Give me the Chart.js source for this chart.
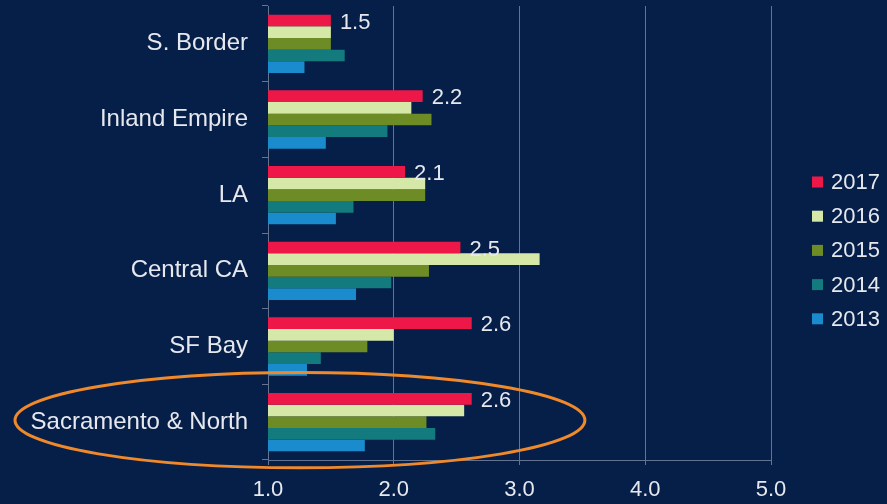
<!DOCTYPE html>
<html>
<head>
<meta charset="utf-8">
<script src="https://cdn.jsdelivr.net/npm/chart.js@4"></script>
<style>
  html, body { margin: 0; padding: 0; background: #061f48; }
  #wrap { width: 887px; height: 504px; }
</style>
</head>
<body>
<div id="wrap"><canvas id="regionChart"></canvas></div>
<script>
// categories and series
const regions = ['S. Border', 'Inland Empire', 'LA', 'Central CA', 'SF Bay', 'Sacramento & North'];
const years = ['2017', '2016', '2015', '2014', '2013'];
const v2017 = [1.5, 2.23, 2.09, 2.53, 2.62, 2.62];
const v2016 = [1.5, 2.14, 2.25, 3.16, 2.0, 2.56];
const v2015 = [1.5, 2.3, 2.25, 2.28, 1.79, 2.26];
const v2014 = [1.61, 1.95, 1.68, 1.98, 1.42, 2.33];
const v2013 = [1.29, 1.46, 1.54, 1.7, 1.31, 1.77];
const xTicks = [1, 2, 3, 4, 5];
const highlighted = 'Sacramento & North';

const colors = ['#ed1848', '#d6e8a8', '#6e8c26', '#137a7e', '#1a8bcc'];
const textColor = '#e6e8ee';
const gridColor = '#64738f';
const family = 'Liberation Sans, Arial, sans-serif';

// value labels on the 2017 bars
const valueLabels = {
    id: 'valueLabels',
    afterDatasetsDraw(chart) {
        const ctx = chart.ctx;
        const meta = chart.getDatasetMeta(0);
        ctx.save();
        ctx.fillStyle = textColor;
        ctx.font = '22px ' + family;
        ctx.textAlign = 'left';
        ctx.textBaseline = 'middle';
        meta.data.forEach((bar, i) => {
            ctx.fillText(v2017[i].toFixed(1), bar.x + 9, bar.y + 2);
        });
        ctx.restore();
    }
};

// legend on the right, square swatches
const sideLegend = {
    id: 'sideLegend',
    afterDraw(chart) {
        const ctx = chart.ctx;
        ctx.save();
        ctx.font = '22px ' + family;
        ctx.textBaseline = 'middle';
        ctx.textAlign = 'left';
        chart.data.datasets.forEach((ds, i) => {
            const cy = 182 + i * 34.2;
            ctx.fillStyle = ds.backgroundColor;
            ctx.fillRect(812, cy - 5.5, 11, 11);
            ctx.fillStyle = textColor;
            ctx.fillText(ds.label, 831, cy + 1);
        });
        ctx.restore();
    }
};

// orange ellipse round the highlighted region
const highlightRing = {
    id: 'highlightRing',
    afterDraw(chart) {
        const ctx = chart.ctx;
        const x = chart.scales.x;
        const y = chart.scales.y;
        const idx = regions.indexOf(highlighted);
        const band = y.getPixelForTick(1) - y.getPixelForTick(0);
        const left = 15;
        const right = x.getPixelForValue(3.52);
        const cy = y.getPixelForTick(idx) - 2;
        ctx.save();
        ctx.strokeStyle = '#f0892a';
        ctx.lineWidth = 3;
        ctx.beginPath();
        ctx.ellipse((left + right) / 2, cy, (right - left) / 2, band * 0.63, 0, 0, Math.PI * 2);
        ctx.stroke();
        ctx.restore();
    }
};

const seriesValues = [v2017, v2016, v2015, v2014, v2013];

new Chart(document.getElementById('regionChart'), {
    type: 'bar',
    data: {
        labels: regions,
        datasets: years.map((yr, i) => ({
            label: yr,
            data: seriesValues[i],
            backgroundColor: colors[i],
            categoryPercentage: 0.77,
            barPercentage: 1.0
        }))
    },
    options: {
        indexAxis: 'y',
        responsive: true,
        maintainAspectRatio: false,
        animation: false,
        layout: { padding: { top: 6, right: 116 } },
        scales: {
            x: {
                min: 1,
                max: 5,
                afterBuildTicks(scale) {
                    scale.ticks = xTicks.map(v => ({ value: v }));
                },
                afterFit(scale) { scale.height = 44; },
                grid: { color: gridColor, tickLength: 5 },
                border: { color: gridColor },
                ticks: {
                    color: textColor,
                    font: { family: family, size: 22 },
                    padding: 12,
                    callback: v => Number(v).toFixed(1)
                }
            },
            y: {
                afterFit(scale) {
                    scale.width = 268;
                    scale.paddingTop = 0;
                    scale.paddingBottom = 0;
                },
                grid: { color: gridColor, drawOnChartArea: false, tickLength: 6 },
                border: { color: gridColor },
                ticks: { color: textColor, font: { family: family, size: 24 }, padding: 14 }
            }
        },
        plugins: {
            legend: { display: false },
            tooltip: { enabled: false }
        }
    },
    plugins: [valueLabels, sideLegend, highlightRing]
});
</script>
</body>
</html>
